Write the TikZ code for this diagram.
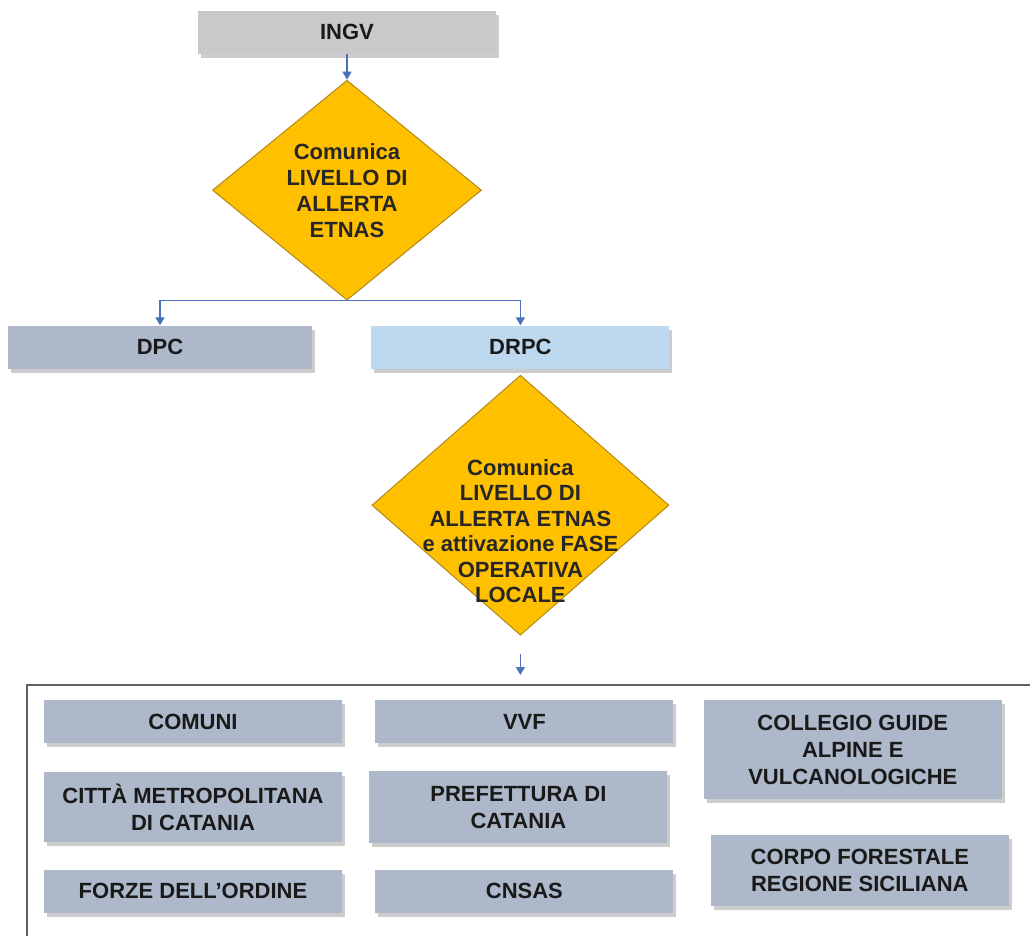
\documentclass[tikz,border=0pt]{standalone}
\usepackage{fontspec}
\setmainfont{Liberation Sans}
\usetikzlibrary{positioning, shapes.geometric, shadows, arrows.meta}

\definecolor{ingvgray}{HTML}{C9C9C9}
\definecolor{slateblue}{HTML}{ADB9CA}
\definecolor{paleblue}{HTML}{BDD7EE}
\definecolor{alertgold}{HTML}{FFC000}
\definecolor{alertedge}{HTML}{B08A1A}
\definecolor{linkblue}{HTML}{4A72B8}
\definecolor{framegray}{HTML}{5F5F5F}

\begin{document}
\begin{tikzpicture}[x=1pt, y=1pt, font=\bfseries\fontsize{22}{27}\selectfont]
    % Define block styles
    \tikzstyle{block} = [rectangle, fill=slateblue, text=black!90, align=center, minimum width=298pt, minimum height=43pt, inner sep=2pt, drop shadow={shadow xshift=3pt, shadow yshift=-4pt, opacity=0.4}]
    \tikzstyle{alertbox} = [diamond, draw=alertedge, fill=alertgold, line width=1pt, inner sep=0pt]
    \tikzstyle{alerttext} = [align=center, text=black!85, font=\bfseries\fontsize{22}{26}\selectfont]
    \tikzstyle{link} = [draw=linkblue, line width=1.2pt, -{Triangle[width=9pt, length=8pt]}]

    \useasboundingbox (0,0) rectangle (1030,-935);

    % Place main nodes
    \node [block, fill=ingvgray] (ingv) at (347,-32) {INGV};
    \node [alertbox, below=26pt of ingv, minimum width=269pt, minimum height=220pt] (alert1) {};
    \node [alerttext] (alert1text) at (alert1) {Comunica\\LIVELLO DI\\ALLERTA\\ETNAS};

    \node [block, minimum width=304pt] (dpc) at (160,-347) {DPC};
    \node [block, fill=paleblue, right=59pt of dpc] (drpc) {DRPC};

    \node [alertbox, below=6pt of drpc, minimum width=297pt, minimum height=260pt] (alert2) {};
    \node [alerttext, font=\bfseries\fontsize{22}{25.5}\selectfont, yshift=-26pt] (alert2text) at (alert2) {Comunica\\LIVELLO DI\\ALLERTA ETNAS\\e attivazione FASE\\OPERATIVA\\LOCALE};

    % Frame around the recipients
    \coordinate (frametop) at (alert2.south |- 0,-685);
    \draw [framegray, line width=2pt] (1040,-685) -- (27,-685) -- (27,-945);

    % Place recipient blocks
    \node [block] (comuni) at (193,-721.5) {COMUNI};
    \node [block, minimum height=70pt, below=29pt of comuni] (citta) {CITTÀ METROPOLITANA\\DI CATANIA};
    \node [block, below=27pt of citta] (forze) {FORZE DELL'ORDINE};
    \node [block, right=33pt of comuni] (vvf) {VVF};
    \node [block, minimum height=72pt, below=28pt of vvf, xshift=-6pt] (prefettura) {PREFETTURA DI\\CATANIA};
    \node [block, below=26pt of prefettura, xshift=6pt] (cnsas) {CNSAS};
    \node [block, minimum height=99pt, below right=0pt and 30pt of vvf.north east] (collegio) {COLLEGIO GUIDE\\ALPINE E\\VULCANOLOGICHE};
    \node [block, minimum height=71pt, below=36pt of collegio, xshift=7pt] (corpo) {CORPO FORESTALE\\REGIONE SICILIANA};

    % Draw connections as arrows
    \draw [link] (ingv) -- (alert1);
    \draw [link] (alert1.south) -| (dpc.north);
    \draw [link] (alert1.south) -| (drpc.north);
    \draw [link, shorten <=18pt, shorten >=10pt] (alert2.south) -- (frametop);

\end{tikzpicture}
\end{document}
